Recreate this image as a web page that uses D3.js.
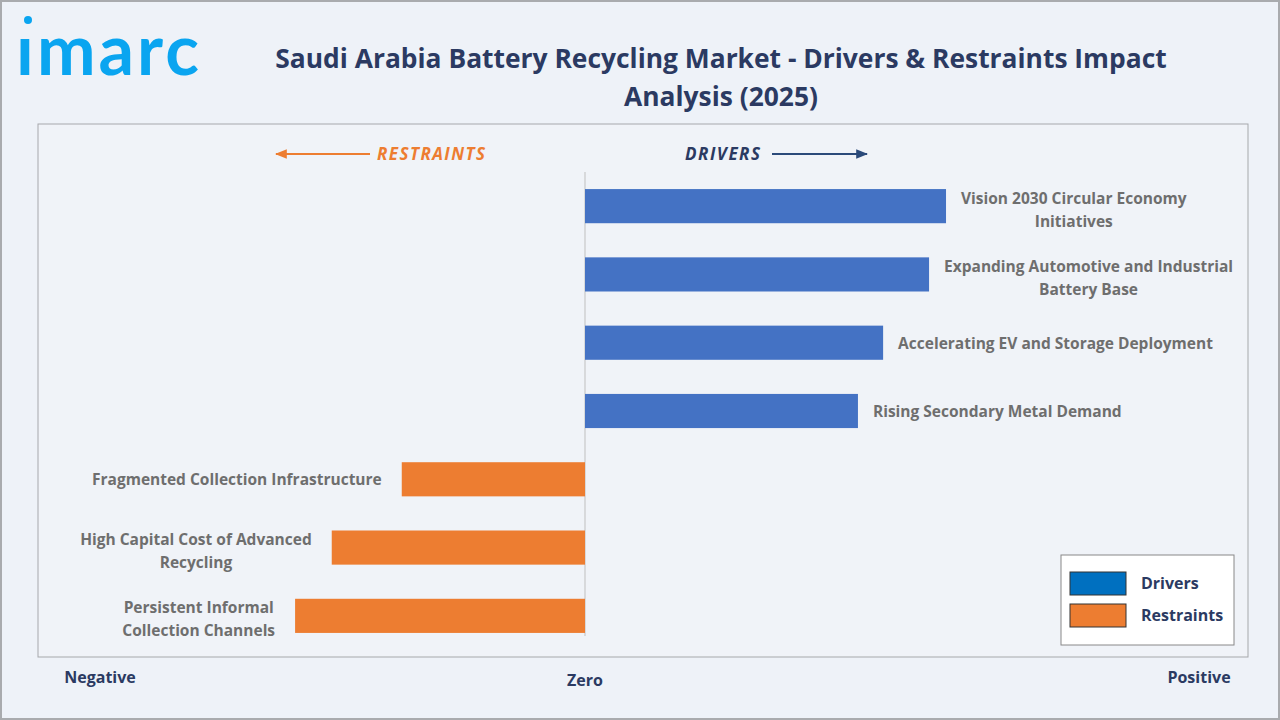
<!DOCTYPE html>
<html><head><meta charset="utf-8">
<script src="https://cdn.jsdelivr.net/npm/d3@7"></script>
<style>body{margin:0;background:#eef2f8;font-family:"Open Sans",sans-serif}</style>
</head><body><svg id="c" width="1280" height="720"></svg>
<script>
'use strict';

var drivers = [
  ["Vision 2030 Circular Economy", "Initiatives"],
  ["Expanding Automotive and Industrial", "Battery Base"],
  ["Accelerating EV and Storage Deployment"],
  ["Rising Secondary Metal Demand"]
];
var driverValues = [6.6, 6.29, 5.45, 4.99];
var restraints = [
  ["Fragmented Collection Infrastructure"],
  ["High Capital Cost of Advanced", "Recycling"],
  ["Persistent Informal", "Collection Channels"]
];
var restraintValues = [-3.35, -4.63, -5.3];

var rows = drivers.map(function (d, i) { return {label: d, value: driverValues[i]}; })
  .concat(restraints.map(function (d, i) { return {label: d, value: restraintValues[i]}; }));

var svg = d3.select('#c');
svg.append('rect').attr('x', 1).attr('y', 1).attr('width', 1278).attr('height', 718)
  .attr('fill', '#eef2f8').attr('stroke', '#a9abae').attr('stroke-width', 2);
svg.append('rect').attr('x', 38).attr('y', 124).attr('width', 1210).attr('height', 533)
  .attr('fill', '#f0f3f8').attr('stroke', '#a6a8ab');

// logo
svg.append('circle').attr('cx', 28).attr('cy', 20).attr('r', 4).attr('fill', '#0aa5f0');
svg.append('text').attr('x', 16).attr('y', 75).text('ımarc')
  .attr('font-family', 'Lato, sans-serif').attr('font-size', 70).attr('font-weight', 'bold')
  .attr('fill', '#0aa5f0').attr('letter-spacing', -1).attr('textLength', 182);

var title = svg.append('text').attr('font-size', 26.4).attr('font-weight', 'bold')
  .attr('fill', '#2b3a62').attr('text-anchor', 'middle');
title.append('tspan').attr('x', 721).attr('y', 68)
  .text('Saudi Arabia Battery Recycling Market - Drivers & Restraints Impact');
title.append('tspan').attr('x', 721).attr('y', 106).text('Analysis (2025)');

var x = d3.scaleLinear().domain([-10, 10]).range([38, 1132]);
var y = d3.scaleBand().domain(d3.range(rows.length)).range([172, 650])
  .paddingInner(0.5).paddingOuter(0.25);

// arrows
var defs = svg.append('defs');
[['ao', '#ed7d31'], ['ab', '#2b4a7a']].forEach(function (m) {
  defs.append('marker').attr('id', m[0]).attr('viewBox', '0 0 10 10').attr('refX', 9).attr('refY', 5)
    .attr('markerWidth', 6).attr('markerHeight', 6).attr('orient', 'auto')
    .append('path').attr('d', 'M0,1L10,5L0,9z').attr('fill', m[1]);
});
svg.append('line').attr('x1', 370).attr('x2', 276).attr('y1', 154).attr('y2', 154)
  .attr('stroke', '#ed7d31').attr('stroke-width', 2).attr('marker-end', 'url(#ao)');
svg.append('text').attr('x', 377).attr('y', 160).text('RESTRAINTS').attr('fill', '#ed7d31')
  .attr('font-size', 17).attr('font-weight', 'bold').attr('font-style', 'italic')
  .attr('textLength', 108);
svg.append('text').attr('x', 685).attr('y', 160).text('DRIVERS').attr('fill', '#2b3a62')
  .attr('font-size', 17).attr('font-weight', 'bold').attr('font-style', 'italic')
  .attr('textLength', 75);
svg.append('line').attr('x1', 772).attr('x2', 867).attr('y1', 154).attr('y2', 154)
  .attr('stroke', '#2b4a7a').attr('stroke-width', 2).attr('marker-end', 'url(#ab)');

// zero line
svg.append('line').attr('x1', x(0)).attr('x2', x(0)).attr('y1', 172).attr('y2', 636)
  .attr('stroke', '#bfbfbf');

svg.selectAll('rect.bar').data(rows).enter().append('rect').attr('class', 'bar')
  .attr('x', function (d) { return x(Math.min(0, d.value)); })
  .attr('width', function (d) { return Math.abs(x(d.value) - x(0)); })
  .attr('y', function (d, i) { return y(i); })
  .attr('height', y.bandwidth())
  .attr('fill', function (d) { return d.value > 0 ? '#4472c4' : '#ed7d31'; });

rows.forEach(function (d, i) {
  var t = svg.append('text').attr('font-size', 15.5).attr('font-weight', 'bold')
    .attr('fill', '#6e6e6e').attr('text-anchor', 'middle');
  var cy = y(i) + y.bandwidth() / 2;
  var n = d.label.length;
  d.label.forEach(function (l, k) {
    t.append('tspan').text(l).attr('y', cy + (n > 1 ? 9 : 6) + (k - (n - 1) / 2) * 23);
  });
  var w = d3.max(t.selectAll('tspan').nodes(), function (s) { return s.getComputedTextLength(); });
  var cx = d.value > 0 ? x(d.value) + 15 + w / 2 : x(d.value) - 20 - w / 2;
  t.selectAll('tspan').attr('x', cx);
});

[['Negative', 100], ['Zero', 585], ['Positive', 1199]].forEach(function (a, i) {
  svg.append('text').attr('x', a[1]).attr('y', i == 1 ? 686 : 683).text(a[0])
    .attr('text-anchor', 'middle').attr('font-size', 16).attr('font-weight', 'bold')
    .attr('fill', '#2b3a62');
});

// legend
var lg = svg.append('g').attr('transform', 'translate(1061,555)');
lg.append('rect').attr('width', 173).attr('height', 90).attr('fill', '#fff').attr('stroke', '#888');
[['Drivers', '#0070c0'], ['Restraints', '#ed7d31']].forEach(function (d, i) {
  lg.append('rect').attr('x', 9).attr('y', 17 + i * 32).attr('width', 56).attr('height', 23)
    .attr('fill', d[1]).attr('stroke', '#333');
  lg.append('text').attr('x', 80).attr('y', 34 + i * 32).text(d[0])
    .attr('font-size', 16).attr('font-weight', 'bold').attr('fill', '#2b3a62');
});
</script></body></html>
